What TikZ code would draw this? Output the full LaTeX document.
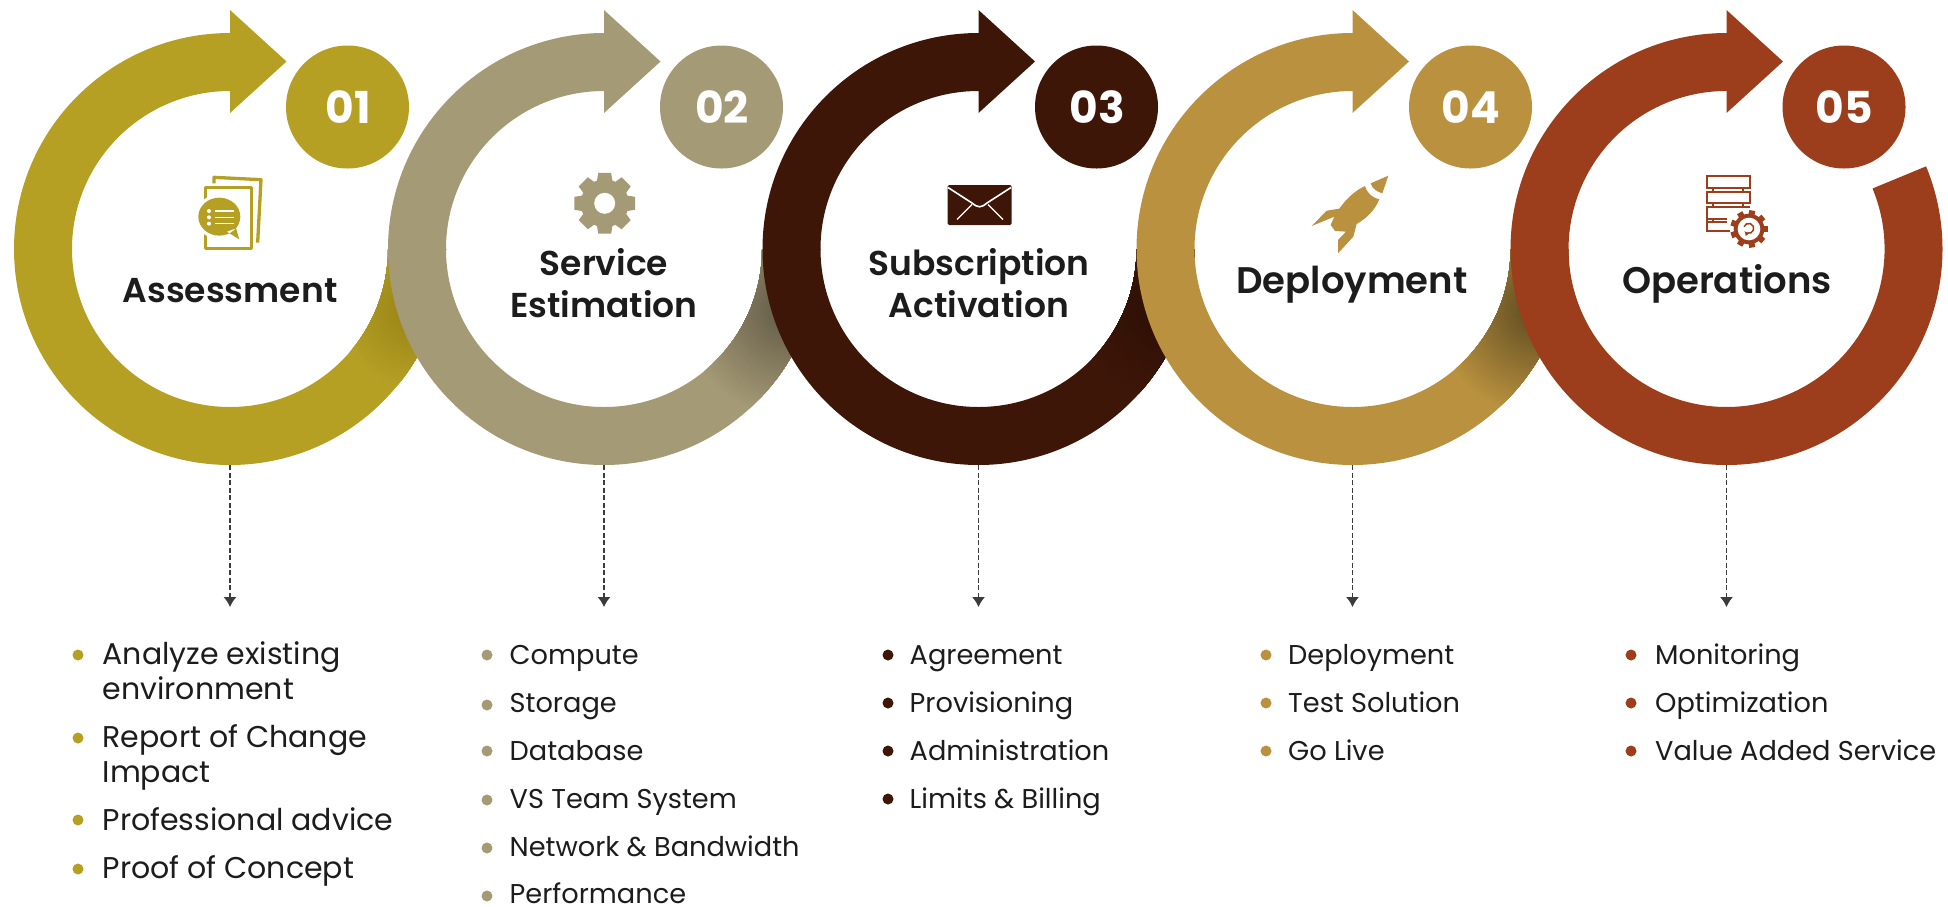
\documentclass[tikz,border=0pt]{standalone}
\usepackage{fontspec}
\setmainfont{Poppins}[BoldFont={* SemiBold}]
\newfontfamily\numfont{Poppins}[UprightFont={* Bold}]
\usetikzlibrary{arrows.meta}
\definecolor{ringa}{HTML}{B6A024}
\definecolor{ringb}{HTML}{A59A76}
\definecolor{ringc}{HTML}{3D1608}
\definecolor{ringd}{HTML}{B9913F}
\definecolor{ringe}{HTML}{9C3D1B}
\definecolor{shadea}{HTML}{968216}
\definecolor{shadeb}{HTML}{5F5844}
\definecolor{shadec}{HTML}{2C0F05}
\definecolor{shaded}{HTML}{5A4820}
\definecolor{inkdark}{HTML}{1C1C1C}
\definecolor{flowdark}{HTML}{3B3B3B}
% soft dark patch where a ring runs under the next one
\newcommand{\tailshade}[5]{\foreach \p in {2,4,...,98} {\fill[#4!\p!#5] (#1,#2) circle ({#3*(1-\p/100)});}}
\tikzset{
  numtext/.style={white,font=\fontsize{44}{44}\selectfont\numfont,anchor=base},
  headtext/.style={inkdark,font=\fontsize{34.5}{34.5}\selectfont\bfseries,anchor=base},
  headwide/.style={inkdark,font=\fontsize{37}{37}\selectfont\bfseries,anchor=base},
  listtext/.style={inkdark,font=\fontsize{27.2}{27.2}\selectfont,anchor=base west,inner sep=0pt},
  listbig/.style={inkdark,font=\fontsize{30}{30}\selectfont,anchor=base west,inner sep=0pt},
  flowline/.style={flowdark,line width=1.3pt,dash pattern=on 5pt off 2.5pt,-{Latex[length=10pt,width=13pt]}}
}
\begin{document}
\begin{tikzpicture}[x=1pt,y=-1pt]
\useasboundingbox (0,0) rectangle (1948,906);
% first ring
\fill[ringa,path picture={\tailshade{416}{310}{80}{shadea}{ringa}}]
  (388,249) arc[start angle=0,end angle=270,radius=158] -- (230,113) -- (286.5,61.5) -- (230,10) -- (230,33)
  arc[start angle=270,end angle=0,radius=216] -- cycle;
\fill[ringa] (347.5,107) circle (61.5);
% second ring
\fill[ringb,path picture={\tailshade{790}{310}{108}{shadeb}{ringb}}]
  (762,249) arc[start angle=0,end angle=270,radius=158] -- (604,113) -- (660.5,61.5) -- (604,10) -- (604,33)
  arc[start angle=270,end angle=0,radius=216] -- cycle;
\fill[ringb] (721.5,107) circle (61.5);
% third ring
\fill[ringc,path picture={\tailshade{1165}{310}{90}{shadec}{ringc}}]
  (1136.5,249) arc[start angle=0,end angle=270,radius=158] -- (978.5,113) -- (1035,61.5) -- (978.5,10) -- (978.5,33)
  arc[start angle=270,end angle=0,radius=216] -- cycle;
\fill[ringc] (1096.5,107) circle (61.5);
% fourth ring
\fill[ringd,path picture={\tailshade{1539}{310}{105}{shaded}{ringd}}]
  (1510.5,249) arc[start angle=0,end angle=270,radius=158] -- (1352.5,113) -- (1409,61.5) -- (1352.5,10) -- (1352.5,33)
  arc[start angle=270,end angle=0,radius=216] -- cycle;
\fill[ringd] (1470.5,107) circle (61.5);
% fifth ring, its tail stays visible
\fill[ringe]
  (1872.5,188.5) arc[start angle=-22.5,end angle=270,radius=158] -- (1726.5,113) -- (1783,61.5) -- (1726.5,10) -- (1726.5,33)
  arc[start angle=270,end angle=-22.5,radius=216] -- cycle;
\fill[ringe] (1844,107) circle (61.5);
% numbers
\node[numtext] (numa) at (348,123) {01};
\node[numtext] (numb) at (722,123) {02};
\node[numtext] (numc) at (1097,123) {03};
\node[numtext] (numd) at (1471,123) {04};
\node[numtext] (nume) at (1844,123) {05};
% headings
\node[headtext] (heada) at (230,302) {Assessment};
\node[headtext] (headb) at (604,275) {Service};
\node[headtext] (headbb) at (604,317) {Estimation};
\node[headtext] (headc) at (979,275) {Subscription};
\node[headtext] (headcc) at (979,317) {Activation};
\node[headwide] (headd) at (1352,293) {Deployment};
\node[headwide] (heade) at (1727,293) {Operations};
% document icon
\begin{scope}[shift={(180,160)},scale=0.3333]
\draw[ringa,line width=3.3pt,line join=round] (102,70) -- (102,52) -- (243,59) -- (233,248);
\draw[ringa,line width=3.3pt,line join=round] (77,83) rectangle (215,266);
\fill[white] (118,170) ellipse (73 and 67);
\fill[ringa] (118,170) ellipse (63 and 57) (140,215) -- (178,238) -- (168,205) -- cycle;
\foreach \y in {153,172,191} {
  \fill[white] (87,\y) circle (6);
  \draw[white,line width=1.6pt] (105,\y) -- (162,\y);
}
\end{scope}
% gear icon
\begin{scope}[shift={(604.7,203.3)}]
\foreach \a in {0,45,...,315} \fill[ringb] (\a-12:31) -- (\a+12:31) -- (\a+20:23) -- (\a-20:23) -- cycle;
\fill[ringb] (0,0) circle (24);
\fill[white] (0,0) circle (10.5);
\end{scope}
% envelope icon
\fill[ringc,rounded corners=1.5pt] (947.5,185) rectangle (1011.5,225);
\draw[white,line width=1.6pt] (948,187.5) -- (972,203) .. controls (978,208) and (981,208) .. (987,203) -- (1011,187.5);
\draw[white,line width=1.2pt] (957,219.5) -- (972,204.5) (1003,219.5) -- (988,204.5);
% rocket icon
\begin{scope}[shift={(1300,160)},scale=0.3333]
\fill[ringd] (265,47) -- (212,70) .. controls (216,85) and (230,95) .. (247,100) -- cycle;
\fill[ringd] (195,78) .. controls (165,92) and (140,115) .. (118,146) -- (80,152) -- (35,198) -- (103,170) -- (92,195) -- (105,213) -- (138,215) -- (114,240) -- (114,280) -- (160,230) -- (170,192) .. controls (200,175) and (225,150) .. (238,118) .. controls (215,112) and (202,100) .. (195,78) -- cycle;
\end{scope}
% server icon
\begin{scope}[shift={(1680,160)},scale=0.3333]
\draw[ringe,line width=2pt] (80,47) rectangle (210,83) (80,95) rectangle (210,130)
  (100,83) -- (100,95) (190,83) -- (190,95) (100,130) -- (100,140) (190,130) -- (190,140)
  (210,140) -- (80,140) -- (80,177) -- (142,177) (80,177) -- (80,212) -- (150,212) (100,177) -- (100,185) (80,185) -- (142,185);
\foreach \a in {0,40,...,320} \fill[ringe] (207,207) ++(\a-9:57) -- ++(\a+90:18) -- ++(\a+180:14) -- ++(\a-90:18) -- cycle;
\fill[ringe] (207,207) circle (46);
\fill[white] (207,207) circle (34);
\draw[ringe,line width=1.5pt,-{Latex[length=4pt,width=5pt]}] (192,200) arc[start angle=200,end angle=500,radius=15];
\end{scope}
% flow lines
\coordinate (bota) at (230,465); \coordinate (enda) at (230,607);
\coordinate (botb) at (604,465); \coordinate (endb) at (604,607);
\coordinate (botc) at (978.5,465); \coordinate (endc) at (978.5,607);
\coordinate (botd) at (1352.5,465); \coordinate (endd) at (1352.5,607);
\coordinate (bote) at (1726.5,465); \coordinate (ende) at (1726.5,607);
\draw[flowline] (bota) -- (enda);
\draw[flowline] (botb) -- (endb);
\draw[flowline] (botc) -- (endc);
\draw[flowline] (botd) -- (endd);
\draw[flowline] (bote) -- (ende);
% first list
\fill[ringa] (78,655) circle (5.5) (78,738) circle (5.5) (78,820) circle (5.5) (78,869) circle (5.5);
\node[listbig] (ta) at (102.5,664) {Analyze existing};
\node[listbig] (tb) at (102.5,699) {environment};
\node[listbig] (tc) at (102.5,747) {Report of Change};
\node[listbig] (td) at (102.5,782) {Impact};
\node[listbig] (te) at (102.5,830.5) {Professional advice};
\node[listbig] (tf) at (102.5,878.5) {Proof of Concept};
% second list
\fill[ringb] (487,655) circle (5.5) (487,705) circle (5.5) (487,751) circle (5.5) (487,800) circle (5.5) (487,848) circle (5.5) (487,896) circle (5.5);
\node[listtext] (ua) at (509.5,664) {Compute};
\node[listtext] (ub) at (509.5,712) {Storage};
\node[listtext] (uc) at (509.5,760) {Database};
\node[listtext] (ud) at (509.5,808) {VS Team System};
\node[listtext] (ue) at (509.5,856) {Network \& Bandwidth};
\node[listtext] (uf) at (509.5,903) {Performance};
% third list
\fill[ringc] (888,655) circle (5.5) (888,703) circle (5.5) (888,751) circle (5.5) (888,799) circle (5.5);
\node[listtext] (va) at (909.5,664) {Agreement};
\node[listtext] (vb) at (909.5,712) {Provisioning};
\node[listtext] (vc) at (909.5,760) {Administration};
\node[listtext] (vd) at (909.5,808) {Limits \& Billing};
% fourth list
\fill[ringd] (1266,655) circle (5.5) (1266,703) circle (5.5) (1266,751) circle (5.5);
\node[listtext] (wa) at (1288,664) {Deployment};
\node[listtext] (wb) at (1288,712) {Test Solution};
\node[listtext] (wc) at (1288,760) {Go Live};
% fifth list
\fill[ringe] (1631,655) circle (5.5) (1631,703) circle (5.5) (1631,751) circle (5.5);
\node[listtext] (xa) at (1655,664) {Monitoring};
\node[listtext] (xb) at (1655,712) {Optimization};
\node[listtext] (xc) at (1655,760) {Value Added Service};
\end{tikzpicture}
\end{document}
